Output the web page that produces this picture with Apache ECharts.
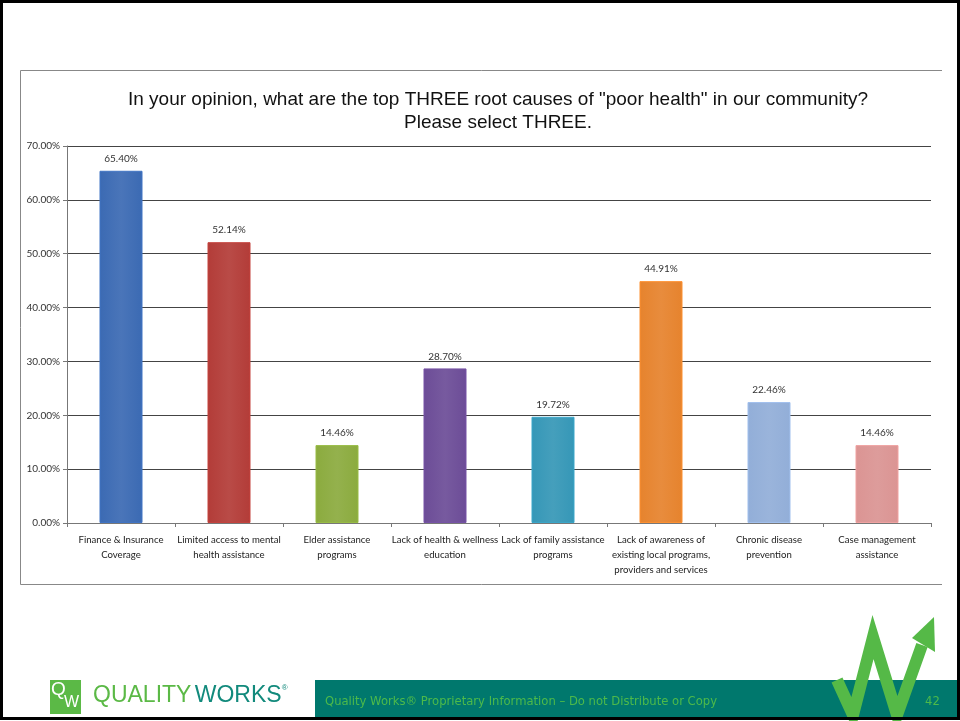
<!DOCTYPE html>
<html>
<head>
<meta charset="utf-8">
<script src="https://cdn.jsdelivr.net/npm/echarts@6/dist/echarts.min.js"></script>
<style>
  html, body { margin: 0; padding: 0; background: #fff; }
  #chart { width: 960px; height: 721px; }
</style>
</head>
<body>
<div id="chart"></div>
<script>
// categories and values
var categories = [
  'Finance & Insurance\nCoverage',
  'Limited access to mental\nhealth assistance',
  'Elder assistance\nprograms',
  'Lack of health & wellness\neducation',
  'Lack of family assistance\nprograms',
  'Lack of awareness of\nexisting local programs,\nproviders and services',
  'Chronic disease\nprevention',
  'Case management\nassistance'
]
var values = [65.40, 52.14, 14.46, 28.70, 19.72, 44.91, 22.46, 14.46]
var barColors = ['#3b6ab3', '#b33c38', '#8bab3e', '#6c4c97', '#3597b7', '#e6832d', '#92aed8', '#db9493']
var yTicks = [0, 10, 20, 30, 40, 50, 60, 70]

var chart = echarts.init(document.getElementById('chart'))

function shade (c) {
  return new echarts.graphic.LinearGradient(0, 0, 1, 0, [
    { offset: 0, color: c },
    { offset: 0.5, color: echarts.color.lift(c, 0.08) },
    { offset: 1, color: c }
  ])
}

var labelFont = 'Lato, "Liberation Sans", sans-serif'

var option = {
  backgroundColor: '#fff',
  animation: false,
  title: {
    text: 'In your opinion, what are the top THREE root causes of "poor health" in our community?\nPlease select THREE.',
    left: 493,
    top: 83,
    textAlign: 'center',
    textStyle: {
      fontFamily: 'Liberation Sans, Arial, sans-serif',
      fontSize: 19,
      fontWeight: 'normal',
      color: '#111',
      lineHeight: 23
    }
  },
  grid: {
    left: 67,
    right: 29,
    top: 146,
    bottom: 198
  },
  xAxis: {
    type: 'category',
    data: categories,
    axisLine: { lineStyle: { color: '#777', width: 1 } },
    axisTick: { show: true, length: 4, lineStyle: { color: '#777' } },
    axisLabel: {
      interval: 0,
      color: '#222',
      fontFamily: labelFont,
      fontSize: 9.6,
      lineHeight: 15,
      margin: 9
    }
  },
  yAxis: {
    type: 'value',
    min: 0,
    max: 70,
    interval: 10,
    axisLine: { show: true, lineStyle: { color: '#777' } },
    axisTick: { show: true, length: 4, lineStyle: { color: '#777' } },
    splitLine: { lineStyle: { color: '#444', width: 1 } },
    axisLabel: {
      color: '#333',
      fontFamily: labelFont,
      fontSize: 10,
      margin: 7,
      formatter: function (v) {
        return yTicks.indexOf(v) >= 0 ? v.toFixed(2) + '%' : ''
      }
    }
  },
  series: [
    {
      type: 'bar',
      barWidth: 43,
      data: values.map(function (v, i) {
        return {
          value: v,
          itemStyle: { color: shade(barColors[i]), borderColor: echarts.color.lift(barColors[i], -0.1), borderWidth: 1 }
        }
      }),
      label: {
        show: true,
        position: 'top',
        distance: 7,
        color: '#333',
        fontFamily: labelFont,
        fontSize: 10,
        formatter: function (p) { return p.value.toFixed(2) + '%' }
      }
    }
  ],
  graphic: [
    // chart frame (right side fades out in the slide)
    {
      type: 'polyline',
      shape: { points: [[942, 70.5], [20.5, 70.5], [20.5, 584.5], [942, 584.5]] },
      style: { fill: null, stroke: '#888', lineWidth: 1 },
      z: -1
    },
    // footer band
    {
      type: 'rect',
      shape: { x: 315, y: 680, width: 645, height: 37 },
      style: { fill: '#00786d' }
    },
    {
      type: 'text',
      left: 325,
      top: 696,
      style: {
        text: 'Quality Works\u00ae Proprietary Information \u2013 Do not Distribute or Copy',
        fill: '#4dba4a',
        font: '11.6px "DejaVu Sans", sans-serif'
      }
    },
    {
      type: 'text',
      left: 925,
      top: 696,
      style: { text: '42', fill: '#4dba4a', font: '11.6px "DejaVu Sans", sans-serif' }
    },
    // W arrow mark
    {
      type: 'rect',
      shape: { x: 833, y: 612, width: 104, height: 68 },
      style: { fill: '#fff' }
    },
    {
      type: 'polyline',
      shape: { points: [[837, 680], [853, 715], [873, 637], [897, 715], [922, 645]] },
      style: { stroke: '#55b947', lineWidth: 12, lineJoin: 'miter', fill: null },
      z: 10
    },
    {
      type: 'polygon',
      shape: { points: [[934, 617], [935, 652], [912, 638]] },
      style: { fill: '#55b947' },
      z: 10
    },
    // Quality Works logo
    {
      type: 'rect',
      shape: { x: 50, y: 680, width: 31, height: 34 },
      style: { fill: '#5bb946' }
    },
    {
      type: 'text',
      left: 51,
      top: 680,
      style: { text: 'Q', fill: '#fff', font: '19px "Liberation Sans", sans-serif' }
    },
    {
      type: 'text',
      left: 64,
      top: 695,
      style: { text: 'W', fill: '#fff', font: '16px "Liberation Sans", sans-serif' }
    },
    {
      type: 'text',
      left: 93,
      top: 684,
      style: {
        rich: {
          a: { fill: '#5bb946', font: '23px "Liberation Sans", sans-serif' },
          b: { fill: '#128a7c', font: '23px "Liberation Sans", sans-serif' },
          c: { fill: '#128a7c', font: '8px sans-serif', verticalAlign: 'top' }
        },
        text: '{a|QUALITY} {b|WORKS}{c|\u00ae}'
      }
    },
    // slide border
    {
      type: 'rect',
      shape: { x: 1.5, y: 1.5, width: 957, height: 717 },
      style: { fill: null, stroke: '#000', lineWidth: 3 },
      z: 20
    }
  ]
}

chart.setOption(option)
</script>
</body>
</html>
